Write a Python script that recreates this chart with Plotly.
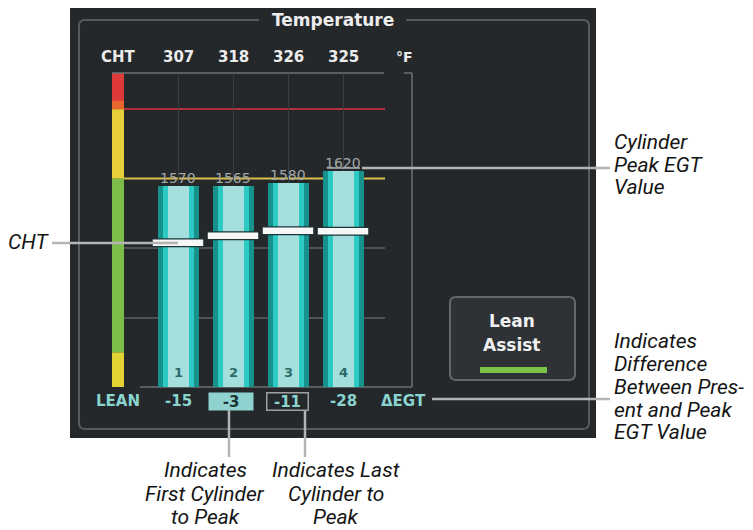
import plotly.graph_objects as go

W, H = 753, 530

# ---------------- data ----------------
CYLINDERS = [1, 2, 3, 4]
CYL_LABELS = ["1", "2", "3", "4"]
CHT_F = [307, 318, 326, 325]
EGT_NOW = [1290, 1290, 1293, 1311]
PEAK_EGT = ["1570", "1565", "1580", "1620"]
DELTA_EGT = ["-15", "-3", "-11", "-28"]
FIRST_TO_PEAK = 2
LAST_TO_PEAK = 3
GAUGE_EDGES = [1000, 1050, 1300, 1400, 1452]
EGT_GRID = [1100, 1200]
EGT_LIMIT_YELLOW = 1300
EGT_LIMIT_RED = 1400
CHT_RANGE = [78.7, 575.5]

CALLOUT_PEAK = ["Cylinder", "Peak EGT", "Value"]
CALLOUT_DELTA = ["Indicates", "Difference", "Between Pres-", "ent and Peak", "EGT Value"]
CALLOUT_FIRST = ["Indicates", "First Cylinder", "to Peak"]
CALLOUT_LAST = ["Indicates Last", "Cylinder to", "Peak"]

# ---------------- helpers ----------------
OFF = 8  # page body margin that the browser adds around the figure

def fx(px):
    return (px - OFF) / W

def fy(py):
    return 1 - (py - OFF) / H

def rrect_path(x0, y0, x1, y1, r):
    return (f"M {fx(x0+r)},{fy(y0)} L {fx(x1-r)},{fy(y0)} "
            f"Q {fx(x1)},{fy(y0)} {fx(x1)},{fy(y0+r)} L {fx(x1)},{fy(y1-r)} "
            f"Q {fx(x1)},{fy(y1)} {fx(x1-r)},{fy(y1)} L {fx(x0+r)},{fy(y1)} "
            f"Q {fx(x0)},{fy(y1)} {fx(x0)},{fy(y1-r)} L {fx(x0)},{fy(y0+r)} "
            f"Q {fx(x0)},{fy(y0)} {fx(x0+r)},{fy(y0)} Z")

PANEL = "#24282b"
STEP = 55.0          # px per cylinder
C1 = 178.0           # px centre of cylinder 1
PX_L, PX_R = 124.0, 385.0
PY_T, PY_B = 73.0, 387.0

fig = go.Figure()

# EGT columns (three overlaid layers to fake the tube shading)
for wpx, col in [(41, "#17918c"), (31, "#2ccac2"), (21, "#a4dfde")]:
    fig.add_trace(go.Bar(x=CYLINDERS, y=EGT_NOW, width=wpx / STEP,
                         marker=dict(color=col, line=dict(width=0)),
                         hoverinfo="skip", showlegend=False))

# CHT markers
fig.add_trace(go.Scatter(x=CYLINDERS, y=CHT_F, yaxis="y2", mode="markers",
                         marker=dict(symbol="line-ew", size=37,
                                     line=dict(width=9, color="#1d3536")),
                         hoverinfo="skip", showlegend=False))
fig.add_trace(go.Scatter(x=CYLINDERS, y=CHT_F, yaxis="y2", mode="markers",
                         marker=dict(symbol="line-ew", size=36,
                                     line=dict(width=6.5, color="#f5f7f7")),
                         hoverinfo="skip", showlegend=False))

shapes = []
# panel
shapes.append(dict(type="rect", xref="paper", yref="paper", layer="below",
                   x0=fx(70), x1=fx(596), y0=fy(438), y1=fy(7),
                   fillcolor=PANEL, line=dict(width=0)))
shapes.append(dict(type="path", xref="paper", yref="paper", layer="below",
                   path=rrect_path(79, 20, 589, 429, 6),
                   line=dict(color="#555a5f", width=2)))
shapes.append(dict(type="rect", xref="paper", yref="paper", layer="below",
                   x0=fx(259), x1=fx(406), y0=fy(27), y1=fy(13),
                   fillcolor=PANEL, line=dict(width=0)))
# gauge bands
gauge_cols = ["#e4d234", "#7cbd4a", "#e8cf3a", "#de3a3a"]
for lo, hi, col in zip(GAUGE_EDGES[:-1], GAUGE_EDGES[1:], gauge_cols):
    shapes.append(dict(type="rect", xref="paper", yref="y", layer="below",
                       x0=fx(112), x1=fx(124), y0=lo, y1=hi,
                       fillcolor=col, line=dict(width=0)))
shapes.append(dict(type="rect", xref="paper", yref="y", layer="below",
                   x0=fx(112), x1=fx(124), y0=EGT_LIMIT_RED, y1=EGT_LIMIT_RED + 12,
                   fillcolor="#e7672f", line=dict(width=0)))
# limit lines
shapes.append(dict(type="line", xref="x domain", yref="y", layer="below",
                   x0=0, x1=1, y0=EGT_LIMIT_RED, y1=EGT_LIMIT_RED,
                   line=dict(color="#b0303a", width=2)))
shapes.append(dict(type="line", xref="x domain", yref="y", layer="below",
                   x0=0, x1=1, y0=EGT_LIMIT_YELLOW, y1=EGT_LIMIT_YELLOW,
                   line=dict(color="#d8c04c", width=2)))
# frame
fr = "#6b7075"
for (x0, y0, x1, y1) in [(112, 73, 384, 73), (404, 73, 412, 73),
                         (412, 73, 412, 387), (140, 387, 412, 387)]:
    shapes.append(dict(type="line", xref="paper", yref="paper", layer="below",
                       x0=fx(x0), x1=fx(x1), y0=fy(y0), y1=fy(y1),
                       line=dict(color=fr, width=1.5)))
# Lean Assist button
shapes.append(dict(type="path", xref="paper", yref="paper", layer="below",
                   path=rrect_path(450, 297, 575, 380, 6),
                   fillcolor="#2e3236", line=dict(color="#63686d", width=2)))
shapes.append(dict(type="rect", xref="paper", yref="paper", layer="above",
                   x0=fx(480), x1=fx(547), y0=fy(373), y1=fy(367),
                   fillcolor="#7cc448", line=dict(width=0)))
# peak tick over cylinder 4
shapes.append(dict(type="line", xref="paper", yref="paper", layer="above",
                   x0=fx(327), x1=fx(360), y0=fy(168), y1=fy(168),
                   line=dict(color="#8a9090", width=2)))
# callout lines
cl = dict(color="#b4b4b4", width=2.5)
for (x0, y0, x1, y1) in [(52, 243, 178, 243), (362, 168, 610, 168),
                         (432, 399, 610, 399), (229, 410, 229, 457),
                         (305, 410, 305, 457)]:
    shapes.append(dict(type="line", xref="paper", yref="paper", layer="above",
                       x0=fx(x0), x1=fx(x1), y0=fy(y0), y1=fy(y1), line=cl))

ann = []
DISP = "DejaVu Sans"

def txt(px, py, text, font, xanchor="center", **kw):
    d = dict(x=fx(px), y=fy(py), xref="paper", yref="paper", showarrow=False,
             xanchor=xanchor, yanchor="middle", text=text, font=font)
    d.update(kw)
    return d

# title
ann.append(txt(333, 20, "<b>Temperature</b>", dict(family=DISP, size=17, color="#ededed")))
# CHT row
WHITE = dict(family=DISP, size=15, color="#ececec")
ann.append(txt(118, 57, "<b>CHT</b>", WHITE))
for c, v in zip(CYLINDERS, CHT_F):
    ann.append(dict(x=c, y=fy(57), xref="x", yref="paper", showarrow=False,
                    xanchor="center", yanchor="middle",
                    text=f"<b>{v}</b>", font=WHITE))
ann.append(txt(404, 57, "<b>°F</b>", dict(family=DISP, size=14, color="#ececec")))
# peak labels
for c, v, p in zip(CYLINDERS, EGT_NOW, PEAK_EGT):
    ann.append(dict(x=c, y=v, xref="x", yref="y", showarrow=False,
                    xanchor="center", yanchor="bottom",
                    yshift=-2, text=p, font=dict(family=DISP, size=14, color="#a3a7a7")))
# cylinder numbers
for c, t in zip(CYLINDERS, CYL_LABELS):
    ann.append(dict(x=c, y=fy(372), xref="x", yref="paper", showarrow=False,
                    xanchor="center", yanchor="middle",
                    text=f"<b>{t}</b>", font=dict(family=DISP, size=13, color="#2c6b68")))
# delta row
TEAL = "#8ad4d0"
ann.append(txt(118, 401, "<b>LEAN</b>", dict(family=DISP, size=15, color=TEAL)))
for c, d in zip(CYLINDERS, DELTA_EGT):
    a = dict(x=c, y=fy(401), xref="x", yref="paper", showarrow=False,
             xanchor="center", yanchor="middle",
             text=f"<b>{d}</b>", font=dict(family=DISP, size=15, color=TEAL))
    if c == FIRST_TO_PEAK:
        a.update(bgcolor="#8fd3d0", font=dict(family=DISP, size=15, color="#1b3533"),
                 width=42, height=15, xshift=-2)
    if c == LAST_TO_PEAK:
        a.update(bordercolor="#9ca2a2", borderwidth=1.5, width=38, height=14, xshift=-1)
    ann.append(a)
ann.append(txt(403, 401, "<b>ΔEGT</b>", dict(family=DISP, size=15, color=TEAL)))
# Lean Assist text
ann.append(txt(512, 321, "<b>Lean</b>", dict(family=DISP, size=17, color="#f0f0f0")))
ann.append(txt(512, 345, "<b>Assist</b>", dict(family=DISP, size=17, color="#f0f0f0")))

# callout texts
CF = dict(family="Roboto", size=21, color="#141414", style="italic")
ann.append(txt(51, 242, "CHT", CF, xanchor="right"))
for t, yy in zip(CALLOUT_PEAK, [142, 165, 187]):
    ann.append(txt(612, yy, t, CF, xanchor="left"))
for t, yy in zip(CALLOUT_DELTA, [341, 364, 387, 410, 432]):
    ann.append(txt(612, yy, t, CF, xanchor="left"))
for t, yy in zip(CALLOUT_FIRST, [470, 494, 517]):
    ann.append(txt(205, yy, t, CF))
for t, yy in zip(CALLOUT_LAST, [470, 494, 517]):
    ann.append(txt(336, yy, t, CF))

fig.update_layout(
    width=W, height=H, autosize=False,
    margin=dict(l=0, r=0, t=0, b=0, pad=0),
    paper_bgcolor="white", plot_bgcolor="rgba(0,0,0,0)",
    barmode="overlay", bargap=0,
    showlegend=False,
    xaxis=dict(domain=[fx(PX_L), fx(PX_R)],
               range=[1 - (C1 - PX_L) / STEP, 1 + (PX_R - C1) / STEP],
               tickvals=CYLINDERS, showticklabels=False, ticks="",
               showgrid=True, gridcolor="#393e42", gridwidth=1,
               zeroline=False, showline=False, fixedrange=True),
    yaxis=dict(domain=[fy(PY_B), fy(PY_T)],
               range=[GAUGE_EDGES[0], GAUGE_EDGES[-1]],
               tickvals=EGT_GRID, showticklabels=False, ticks="",
               showgrid=True, gridcolor="#4d5256", gridwidth=1.5,
               zeroline=False, showline=False, fixedrange=True),
    yaxis2=dict(overlaying="y", range=CHT_RANGE, visible=False, fixedrange=True),
    shapes=shapes, annotations=ann,
)

fig.write_html("out.html", config={"displayModeBar": False})
